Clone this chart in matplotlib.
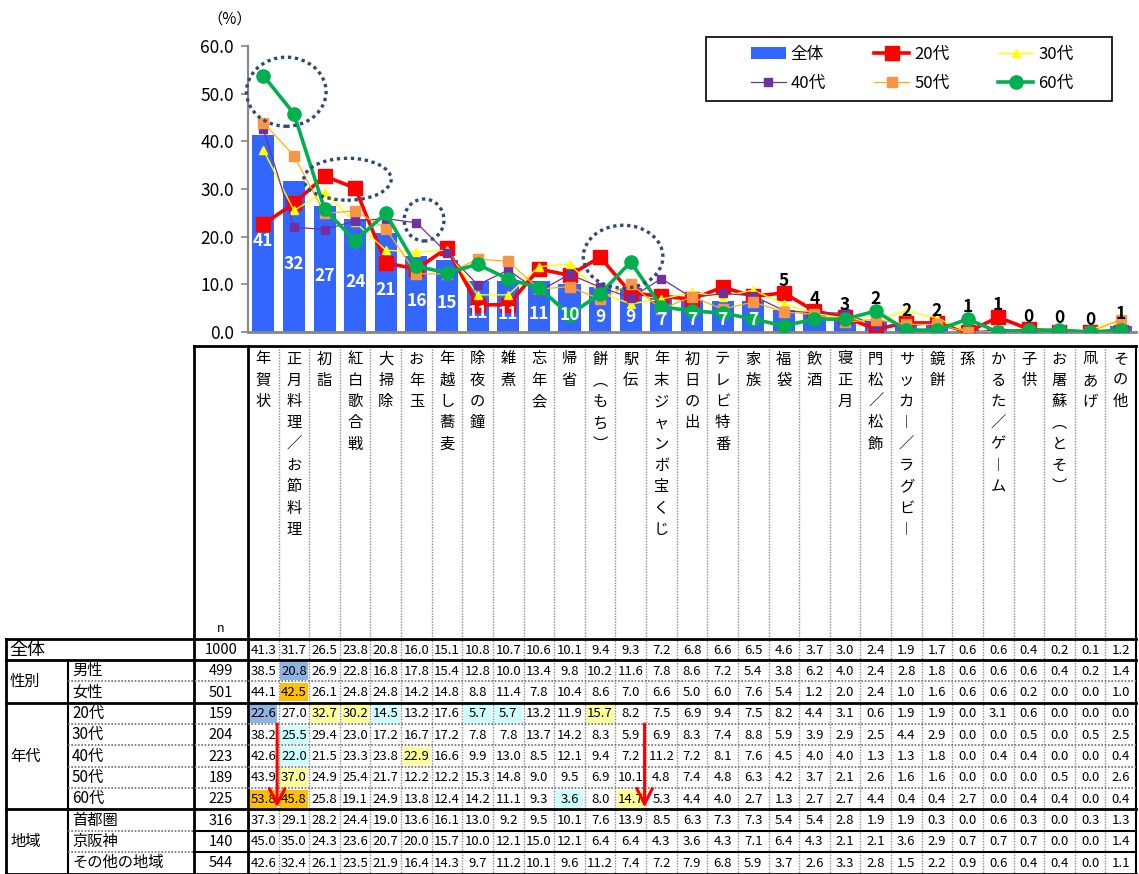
import matplotlib
matplotlib.use('Agg')
import matplotlib.pyplot as plt
from matplotlib.patches import Ellipse, Rectangle
import numpy as np

plt.rcParams['font.family'] = ['Noto Sans CJK JP', 'DejaVu Sans']

# 項目
items = ['年賀状', '正月料理／お節料理', '初詣', '紅白歌合戦', '大掃除', 'お年玉', '年越し蕎麦',
         '除夜の鐘', '雑煮', '忘年会', '帰省', '餅（もち）', '駅伝', '年末ジャンボ宝くじ',
         '初日の出', 'テレビ特番', '家族', '福袋', '飲酒', '寝正月', '門松／松飾',
         'サッカー／ラグビー', '鏡餅', '孫', 'かるた／ゲーム', '子供', 'お屠蘇（とそ）', '凧あげ', 'その他']

total  = [41.3, 31.7, 26.5, 23.8, 20.8, 16.0, 15.1, 10.8, 10.7, 10.6, 10.1, 9.4, 9.3, 7.2, 6.8, 6.6, 6.5, 4.6, 3.7, 3.0, 2.4, 1.9, 1.7, 0.6, 0.6, 0.4, 0.2, 0.1, 1.2]
male   = [38.5, 20.8, 26.9, 22.8, 16.8, 17.8, 15.4, 12.8, 10.0, 13.4, 9.8, 10.2, 11.6, 7.8, 8.6, 7.2, 5.4, 3.8, 6.2, 4.0, 2.4, 2.8, 1.8, 0.6, 0.6, 0.6, 0.4, 0.2, 1.4]
female = [44.1, 42.5, 26.1, 24.8, 24.8, 14.2, 14.8, 8.8, 11.4, 7.8, 10.4, 8.6, 7.0, 6.6, 5.0, 6.0, 7.6, 5.4, 1.2, 2.0, 2.4, 1.0, 1.6, 0.6, 0.6, 0.2, 0.0, 0.0, 1.0]
age20  = [22.6, 27.0, 32.7, 30.2, 14.5, 13.2, 17.6, 5.7, 5.7, 13.2, 11.9, 15.7, 8.2, 7.5, 6.9, 9.4, 7.5, 8.2, 4.4, 3.1, 0.6, 1.9, 1.9, 0.0, 3.1, 0.6, 0.0, 0.0, 0.0]
age30  = [38.2, 25.5, 29.4, 23.0, 17.2, 16.7, 17.2, 7.8, 7.8, 13.7, 14.2, 8.3, 5.9, 6.9, 8.3, 7.4, 8.8, 5.9, 3.9, 2.9, 2.5, 4.4, 2.9, 0.0, 0.0, 0.5, 0.0, 0.5, 2.5]
age40  = [42.6, 22.0, 21.5, 23.3, 23.8, 22.9, 16.6, 9.9, 13.0, 8.5, 12.1, 9.4, 7.2, 11.2, 7.2, 8.1, 7.6, 4.5, 4.0, 4.0, 1.3, 1.3, 1.8, 0.0, 0.4, 0.4, 0.0, 0.0, 0.4]
age50  = [43.9, 37.0, 24.9, 25.4, 21.7, 12.2, 12.2, 15.3, 14.8, 9.0, 9.5, 6.9, 10.1, 4.8, 7.4, 4.8, 6.3, 4.2, 3.7, 2.1, 2.6, 1.6, 1.6, 0.0, 0.0, 0.0, 0.5, 0.0, 2.6]
age60  = [53.8, 45.8, 25.8, 19.1, 24.9, 13.8, 12.4, 14.2, 11.1, 9.3, 3.6, 8.0, 14.7, 5.3, 4.4, 4.0, 2.7, 1.3, 2.7, 2.7, 4.4, 0.4, 0.4, 2.7, 0.0, 0.4, 0.4, 0.0, 0.4]
shuto  = [37.3, 29.1, 28.2, 24.4, 19.0, 13.6, 16.1, 13.0, 9.2, 9.5, 10.1, 7.6, 13.9, 8.5, 6.3, 7.3, 7.3, 5.4, 5.4, 2.8, 1.9, 1.9, 0.3, 0.0, 0.6, 0.3, 0.0, 0.3, 1.3]
keihan = [45.0, 35.0, 24.3, 23.6, 20.7, 20.0, 15.7, 10.0, 12.1, 15.0, 12.1, 6.4, 6.4, 4.3, 3.6, 4.3, 7.1, 6.4, 4.3, 2.1, 2.1, 3.6, 2.9, 0.7, 0.7, 0.7, 0.0, 0.0, 1.4]
other  = [42.6, 32.4, 26.1, 23.5, 21.9, 16.4, 14.3, 9.7, 11.2, 10.1, 9.6, 11.2, 7.4, 7.2, 7.9, 6.8, 5.9, 3.7, 2.6, 3.3, 2.8, 1.5, 2.2, 0.9, 0.6, 0.4, 0.4, 0.0, 1.1]

# 表の行
groups = [('全体', ['全体']), ('性別', ['男性', '女性']),
          ('年代', ['20代', '30代', '40代', '50代', '60代']),
          ('地域', ['首都圏', '京阪神', 'その他の地域'])]
row_n = {'全体': 1000, '男性': 499, '女性': 501, '20代': 159, '30代': 204, '40代': 223,
         '50代': 189, '60代': 225, '首都圏': 316, '京阪神': 140, 'その他の地域': 544}
row_vals = {'全体': total, '男性': male, '女性': female, '20代': age20, '30代': age30,
            '40代': age40, '50代': age50, '60代': age60, '首都圏': shuto, '京阪神': keihan,
            'その他の地域': other}

# 網掛けセル
hl_orange = [('女性', 1), ('60代', 0), ('60代', 1)]
hl_blue = [('男性', 1), ('20代', 0)]
hl_yellow = [('20代', 2), ('20代', 3), ('20代', 11), ('40代', 5), ('50代', 1), ('60代', 12)]
hl_cyan = [('20代', 4), ('20代', 7), ('20代', 8), ('30代', 1), ('40代', 1), ('60代', 10)]

# 折れ線
series = [('20代', age20, '#FF0000', '#FF0000', 's', 9.5, 2.6),
          ('30代', age30, '#FFFF00', '#FFFF00', '^', 5.5, 1.0),
          ('40代', age40, '#7030A0', '#7030A0', 's', 6.0, 0.9),
          ('50代', age50, '#FFB300', '#F79646', 's', 6.5, 0.9),
          ('60代', age60, '#00B050', '#00B050', 'o', 9.5, 2.6)]

# 点線の楕円（系列, 項目）
circles = [('60代', [0, 1], 2.6, 14.5), ('20代', [2, 3], 2.85, 8.8),
           ('40代', [5], 1.3, 8.8), ('20代60代', [11, 12], 2.6, 13.2)]

W, H = 1139, 874
fig = plt.figure(figsize=(W / 100, H / 100), dpi=100)

col0 = 248
colw = (1136 - col0) / len(items)
ax_top, ax_bot = 46, 332

ax = fig.add_axes([col0 / W, 1 - ax_bot / H, (1136 - col0) / W, (ax_bot - ax_top) / H])
x = np.arange(len(items)) + 0.5
ax.bar(x, total, width=0.72, color='#3366FF', zorder=2, label='全体')
lines = {}
for z, (name, vals, lc, mc, mk, ms, lw) in enumerate(series):
    ln, = ax.plot(x, vals, color=lc, marker=mk, markersize=ms, markerfacecolor=mc,
                  markeredgecolor=mc, lw=lw, zorder=3 + z, label=name)
    lines[name] = ln

ax.set_xlim(0, len(items))
ax.set_ylim(0, 60)
ax.set_yticks(np.arange(0, 61, 10))
ax.set_yticklabels(['%.1f' % v for v in np.arange(0, 61, 10)], fontsize=12.5)
ax.set_xticks([])
for s in ['top', 'right']:
    ax.spines[s].set_visible(False)
ax.spines['left'].set_color('#868686')
ax.spines['left'].set_linewidth(1.5)
ax.spines['bottom'].set_color('#868686')
ax.spines['bottom'].set_linewidth(2)
ax.tick_params(axis='y', length=5, width=1.2, color='#868686', pad=5)
ax.patch.set_alpha(0)

# 棒のラベル（四捨五入）
for i, v in enumerate(total):
    lab = '%d' % int(np.floor(v + 0.5))
    if v >= 6.5:
        ax.text(x[i], max(v / 2 - 1.5, 2.5), lab, ha='center', va='center',
                color='white', fontsize=12.5, fontweight='bold', zorder=20)
    else:
        yy = max(v, age20[i], age60[i]) + 2.5
        ax.text(x[i], yy, lab, ha='center', va='center',
                color='black', fontsize=12.5, fontweight='bold', zorder=20)

# 楕円
sdict = {'20代': age20, '40代': age40, '60代': age60}
for name, idx, ew, eh in circles:
    if name == '20代60代':
        ys = [max(age20[i], age60[i]) for i in idx]
    else:
        ys = [sdict[name][i] for i in idx]
    cx = np.mean([x[i] for i in idx]) + 0.25
    cy = np.mean(ys) + 0.6
    ax.add_patch(Ellipse((cx, cy), ew, eh, fill=False, edgecolor='#2F4A78', lw=2.4,
                         linestyle=(0, (1, 1.1)), zorder=15, clip_on=False))

fig.text(230 / W, 1 - 19 / H, '（%）', ha='center', va='center', fontsize=11)

# 凡例
order = ['全体', '40代', '20代', '50代', '30代', '60代']
hmap = {'全体': ax.containers[0]}
hmap.update(lines)
leg = fig.legend([hmap[k] for k in order], order, ncol=3, mode='expand', frameon=False,
                 loc='center', bbox_to_anchor=(739 / W, 1 - 100 / H, (1085 - 739) / W, 62 / H),
                 fontsize=12, handlelength=2.1, handletextpad=0.3, labelspacing=0.75,
                 borderpad=0.2)

# 表（ピクセル座標のオーバーレイ）
ov = fig.add_axes([0, 0, 1, 1])
ov.set_xlim(0, W)
ov.set_ylim(H, 0)
ov.axis('off')

ov.add_patch(Rectangle((706, 37), 406, 64, fill=False, edgecolor='black', lw=1.2))

head_top, head_bot = 346, 639
row_top0, row_h0, row_h = 639, 21, 21.35
right = 1136
dot = (0, (1, 1))

# 行の位置
rows = []
y = row_top0
for g, subs in groups:
    for r in subs:
        h = row_h0 if r == '全体' else row_h
        rows.append((g, r, y, y + h))
        y += h
bottom = y

hl = {}
for k in hl_orange:
    hl[k] = '#FFC000'
for k in hl_blue:
    hl[k] = '#8DB4E2'
for k in hl_yellow:
    hl[k] = '#FFFF99'
for k in hl_cyan:
    hl[k] = '#CCFFFF'

for g, r, y0, y1 in rows:
    vals = row_vals[r]
    for j, v in enumerate(vals):
        cx = col0 + (j + 0.5) * colw
        if (r, j) in hl:
            ov.add_patch(Rectangle((col0 + j * colw + 1.5, y0 + 1.5), colw - 3, y1 - y0 - 3,
                                   facecolor=hl[(r, j)], edgecolor='none'))
        ov.text(cx, (y0 + y1) / 2 + 0.5, '%.1f' % v, ha='center', va='center', fontsize=9.5)
    ov.text(221, (y0 + y1) / 2 + 0.5, str(row_n[r]), ha='center', va='center', fontsize=10.5)
    if r == '全体':
        ov.text(9, (y0 + y1) / 2, r, ha='left', va='center', fontsize=13)
    else:
        ov.text(72, (y0 + y1) / 2, r, ha='left', va='center', fontsize=11)

# グループ名
for g, subs in groups:
    if g == '全体':
        continue
    ys = [(y0, y1) for gg, r, y0, y1 in rows if gg == g]
    ov.text(10, (ys[0][0] + ys[-1][1]) / 2, g, ha='left', va='center', fontsize=11)

# 縦書きの見出し
vert = {'ー': '︱', '（': '︵', '）': '︶'}
for j, name in enumerate(items):
    cx = col0 + (j + 0.5) * colw
    for k, ch in enumerate(name):
        ov.text(cx, 359 + k * 21.3, vert.get(ch, ch), ha='center', va='center', fontsize=11)
ov.text(221, 628, 'n', ha='center', va='center', fontsize=9)

# 罫線
for j in range(1, len(items)):
    xx = col0 + j * colw
    ov.plot([xx, xx], [head_top, bottom], color='#8C8C8C', lw=1, linestyle=dot)
for xx, lw in [(194, 2), (col0, 2), (right, 1.5)]:
    ov.plot([xx, xx], [head_top, bottom], color='black', lw=lw)
ov.plot([194, right], [head_top, head_top], color='black', lw=2)
ov.plot([6, 6], [row_top0, bottom], color='black', lw=2)
ov.plot([68, 68], [row_top0 + row_h0, bottom], color='black', lw=1.5)
ov.plot([6, right], [row_top0, row_top0], color='black', lw=2)
ov.plot([6, right], [bottom, bottom], color='black', lw=2)
prev_g = None
for g, r, y0, y1 in rows:
    if prev_g is not None:
        if g != prev_g:
            ov.plot([6, right], [y0, y0], color='black', lw=2)
        elif g == '地域':
            ov.plot([68, 194], [y0, y0], color='#707070', lw=1.2, linestyle=dot)
            ov.plot([194, right], [y0, y0], color='black', lw=1.5)
        else:
            ov.plot([68, right], [y0, y0], color='#707070', lw=1.2, linestyle=dot)
    prev_g = g

# 赤い矢印
ytop = [y0 for g, r, y0, y1 in rows if r == '30代'][0]
ybot = [y1 for g, r, y0, y1 in rows if r == '60代'][0]
for j in [0, 12]:
    xx = col0 + (j + 1) * colw - 1.5
    ov.annotate('', xy=(xx, ybot - 2), xytext=(xx, ytop),
                arrowprops=dict(arrowstyle='->', color='#FF0000', lw=2.2,
                                mutation_scale=28, shrinkA=0, shrinkB=0))

fig.savefig('out.png', dpi=100)
